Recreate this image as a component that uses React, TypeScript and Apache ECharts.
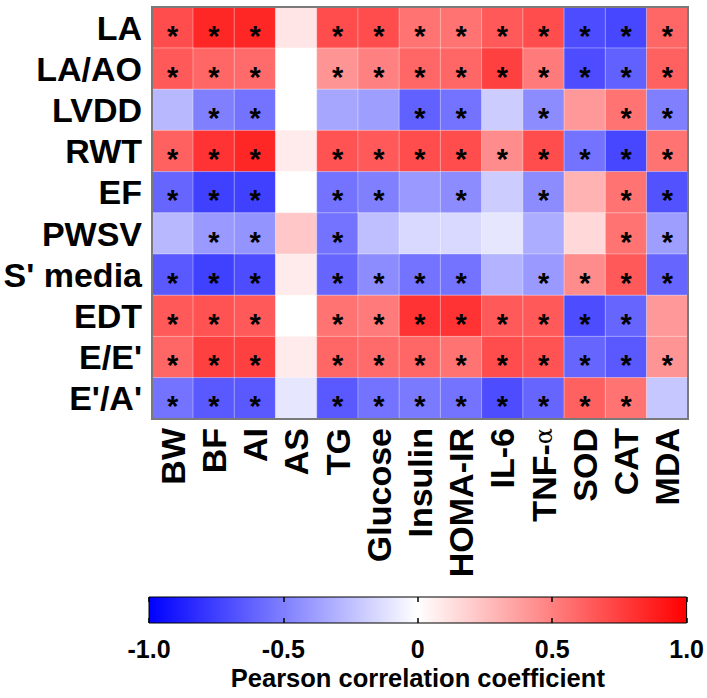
import React, { useEffect, useRef } from "react";
import * as echarts from "echarts";

const cols = ["BW", "BF", "AI", "AS", "TG", "Glucose", "Insulin", "HOMA-IR", "IL-6", "TNF-α", "SOD", "CAT", "MDA"];
const rows = ["LA", "LA/AO", "LVDD", "RWT", "EF", "PWSV", "S' media", "EDT", "E/E'", "E'/A'"];

const rLA = [0.7, 0.85, 0.85, 0.1, 0.7, 0.7, 0.55, 0.55, 0.65, 0.7, -0.7, -0.72, 0.6];
const rLAAO = [0.65, 0.6, 0.58, 0.0, 0.42, 0.5, 0.6, 0.6, 0.75, 0.52, -0.7, -0.62, 0.62];
const rLVDD = [-0.28, -0.5, -0.55, 0.0, -0.35, -0.38, -0.62, -0.55, -0.2, -0.45, 0.4, 0.55, -0.5];
const rRWT = [0.62, 0.8, 0.85, 0.08, 0.68, 0.65, 0.7, 0.7, 0.45, 0.7, -0.55, -0.72, 0.55];
const rEF = [-0.6, -0.75, -0.75, 0.0, -0.55, -0.5, -0.4, -0.45, -0.2, -0.45, 0.3, 0.55, -0.68];
const rPWSV = [-0.28, -0.4, -0.42, 0.22, -0.55, -0.25, -0.15, -0.15, -0.1, -0.32, 0.15, 0.55, -0.38];
const rSmedia = [-0.65, -0.75, -0.7, 0.08, -0.6, -0.45, -0.55, -0.55, -0.3, -0.4, 0.45, 0.65, -0.6];
const rEDT = [0.65, 0.68, 0.65, 0.0, 0.55, 0.52, 0.8, 0.8, 0.65, 0.65, -0.7, -0.6, 0.4];
const rEE = [0.6, 0.75, 0.75, 0.08, 0.6, 0.58, 0.6, 0.55, 0.7, 0.68, -0.6, -0.65, 0.42];
const rEA = [-0.55, -0.65, -0.65, -0.1, -0.65, -0.55, -0.52, -0.55, -0.7, -0.6, 0.62, 0.55, -0.22];
const values = [rLA, rLAAO, rLVDD, rRWT, rEF, rPWSV, rSmedia, rEDT, rEE, rEA];

const sLA = [1, 1, 1, 0, 1, 1, 1, 1, 1, 1, 1, 1, 1];
const sLAAO = [1, 1, 1, 0, 1, 1, 1, 1, 1, 1, 1, 1, 1];
const sLVDD = [0, 1, 1, 0, 0, 0, 1, 1, 0, 1, 0, 1, 1];
const sRWT = [1, 1, 1, 0, 1, 1, 1, 1, 1, 1, 1, 1, 1];
const sEF = [1, 1, 1, 0, 1, 1, 0, 1, 0, 1, 0, 1, 1];
const sPWSV = [0, 1, 1, 0, 1, 0, 0, 0, 0, 0, 0, 1, 1];
const sSmedia = [1, 1, 1, 0, 1, 1, 1, 1, 0, 1, 1, 1, 1];
const sEDT = [1, 1, 1, 0, 1, 1, 1, 1, 1, 1, 1, 1, 0];
const sEE = [1, 1, 1, 0, 1, 1, 1, 1, 1, 1, 1, 1, 1];
const sEA = [1, 1, 1, 0, 1, 1, 1, 1, 1, 1, 1, 1, 0];
const signif = [sLA, sLAAO, sLVDD, sRWT, sEF, sPWSV, sSmedia, sEDT, sEE, sEA];

const FONT = "Liberation Sans, Arial, sans-serif";

export default function App() {
  const ref = useRef<HTMLDivElement>(null);
  useEffect(() => {
    if (!ref.current) return;
    const chart = echarts.init(ref.current, undefined, { renderer: "svg" });
    const data: any[] = [];
    values.forEach((row, yi) => {
      row.forEach((v, xi) => {
        data.push([xi, yi, v, signif[yi][xi]]);
      });
    });
    chart.setOption({
      animation: false,
      backgroundColor: "#ffffff",
      textStyle: { fontFamily: FONT },
      grid: [
        { left: 152, right: 19, top: 7, height: 412, show: true, borderColor: "#7a7a7a", borderWidth: 2, backgroundColor: "transparent", z: 5 },
        {
          left: 149,
          right: 19,
          top: 597,
          height: 26,
          show: true,
          borderColor: "#000",
          borderWidth: 1,
          backgroundColor: new echarts.graphic.LinearGradient(0, 0, 1, 0, [
            { offset: 0, color: "#0000ff" },
            { offset: 0.5, color: "#ffffff" },
            { offset: 1, color: "#ff0000" },
          ]),
        },
      ],
      xAxis: [
        {
          type: "category",
          gridIndex: 0,
          data: cols,
          axisLine: { show: false },
          axisTick: { show: false },
          splitLine: { show: false },
          axisLabel: {
            interval: 0,
            hideOverlap: false,
            rotate: 90,
            margin: 9,
            color: "#000",
            fontSize: 34,
            fontWeight: "bold",
            fontFamily: FONT,
            formatter: (v: string) => (v === "TNF-α" ? "{b|TNF-}{g|α}" : "{b|" + v + "}"),
            rich: {
              b: { fontSize: 34, fontWeight: "bold", fontFamily: FONT, color: "#000" },
              g: { fontSize: 24, fontWeight: "normal", fontFamily: "DejaVu Serif, serif", color: "#000" },
            },
          },
        },
        {
          type: "value",
          gridIndex: 1,
          min: -1,
          max: 1,
          interval: 0.5,
          position: "bottom",
          axisLine: { show: false },
          splitLine: { show: false },
          axisTick: { show: true, inside: true, length: 5, lineStyle: { color: "#000", width: 1.5 } },
          axisLabel: {
            margin: 13,
            color: "#000",
            fontSize: 25,
            fontWeight: "bold",
            fontFamily: FONT,
            formatter: (v: number) => (v === 0 ? "0" : v.toFixed(1)),
          },
          name: "Pearson correlation coefficient",
          nameLocation: "middle",
          nameGap: 42,
          nameTextStyle: { color: "#000", fontSize: 25.5, fontWeight: "bold", fontFamily: FONT },
        },
        {
          type: "value",
          gridIndex: 1,
          min: -1,
          max: 1,
          interval: 0.5,
          position: "top",
          axisLine: { show: false },
          splitLine: { show: false },
          axisTick: { show: true, inside: true, length: 5, lineStyle: { color: "#000", width: 1.5 } },
          axisLabel: { show: false },
        },
      ],
      yAxis: [
        {
          type: "category",
          gridIndex: 0,
          data: rows,
          inverse: true,
          axisLine: { show: false },
          axisTick: { show: false },
          splitLine: { show: false },
          axisLabel: { interval: 0, hideOverlap: false, margin: 10, color: "#000", fontSize: 34, fontWeight: "bold", fontFamily: FONT },
        },
        { type: "value", gridIndex: 1, show: false, min: 0, max: 1 },
      ],
      visualMap: {
        show: false,
        type: "continuous",
        min: -1,
        max: 1,
        dimension: 2,
        seriesIndex: 0,
        inRange: { color: ["#0000ff", "#ffffff", "#ff0000"] },
      },
      series: [
        {
          type: "heatmap",
          xAxisIndex: 0,
          yAxisIndex: 0,
          data,
          itemStyle: { borderColor: "rgba(255,255,255,0.35)", borderWidth: 1 },
          label: {
            show: true,
            color: "#000",
            fontSize: 29,
            fontWeight: "bold",
            fontFamily: FONT,
            offset: [0, 8],
            formatter: (p: any) => (p.value[3] ? "*" : ""),
          },
          emphasis: { disabled: true },
        },
        {
          type: "line",
          xAxisIndex: 1,
          yAxisIndex: 1,
          data: [],
          silent: true,
        },
      ],
    });
    return () => chart.dispose();
  }, []);
  return <div ref={ref} style={{ position: "fixed", left: 0, top: 0, width: 707, height: 698 }} />;
}
